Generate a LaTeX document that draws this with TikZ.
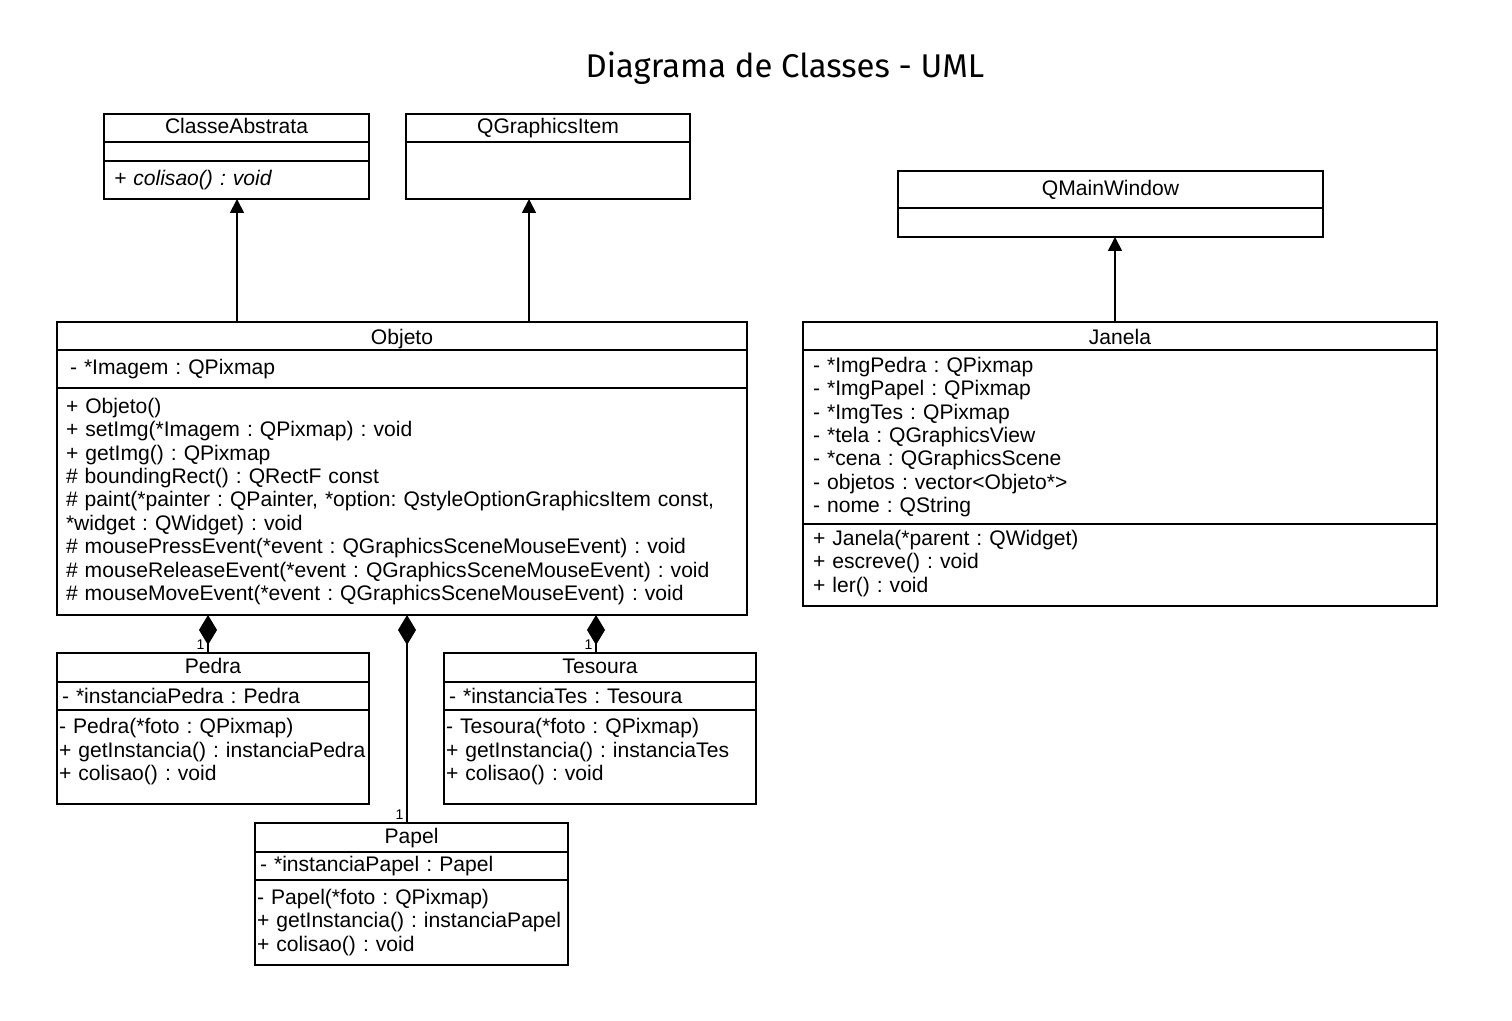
\documentclass[tikz,border=0pt]{standalone}
\usepackage{fontspec}
\setmainfont{Liberation Sans}
\newfontfamily\titlefont{Fira Sans}
\usetikzlibrary{arrows.meta,positioning}
\newcommand\umlfont{\fontsize{12}{13.3}\selectfont\frenchspacing\hyphenpenalty=10000 }

\begin{document}
\begin{tikzpicture}[font=\umlfont,>=Latex,
 hd/.style={draw,line width=1pt,outer sep=0pt,inner sep=0pt,anchor=north west,minimum height=.56cm,text height=9pt,text depth=2.6pt},
 cp/.style={draw,line width=1pt,outer sep=0pt,inner ysep=0pt,inner xsep=.2cm,align=left},
 gen/.style={line width=1pt,-{Triangle[width=.28cm,length=.28cm]}},
 comp/.style={line width=1pt,-{Diamond[width=.36cm,length=.6cm]}},
 mult/.style={font=\footnotesize,inner sep=1.5pt}]
\useasboundingbox (0,0) rectangle (30.24,-20.42);
\node[font=\titlefont\fontsize{18.7}{20}\selectfont] (title) at (15.70,-1.36) {Diagrama de Classes - UML};

% superclasses
\node[hd,minimum width=5.30cm] (abs) at (2.08,-2.28) {ClasseAbstrata};
\node[cp,below=0pt of abs,text width=4.90cm,minimum height=.38cm] (abs-a) {};
\node[cp,below=0pt of abs-a,text width=4.90cm,minimum height=.76cm] (abs-m) {\textit{+ colisao() : void}};

\node[hd,minimum width=5.68cm] (qgi) at (8.12,-2.28) {QGraphicsItem};
\node[cp,below=0pt of qgi,text width=5.28cm,minimum height=1.14cm] (qgi-b) {};

\node[hd,minimum width=8.50cm,minimum height=.74cm] (qmw) at (17.96,-3.42) {QMainWindow};
\node[cp,below=0pt of qmw,text width=8.10cm,minimum height=.58cm] (qmw-b) {};

% Objeto
\node[hd,minimum width=13.80cm,text height=10.6pt,text depth=.6pt] (obj) at (1.14,-6.44) {Objeto};
\node[cp,inner xsep=.26cm,below=0pt of obj,text width=13.28cm,minimum height=.76cm] (obj-a) {- *Imagem : QPixmap};
\node[cp,inner xsep=.18cm,below=0pt of obj-a,text width=13.44cm,minimum height=4.54cm] (obj-m) {+ Objeto()\\
+ setImg(*Imagem : QPixmap) : void\\
+ getImg() : QPixmap\\
\# boundingRect() : QRectF const\\
\# paint(*painter : QPainter, *option: QstyleOptionGraphicsItem const,\\
{}*widget : QWidget) : void\\
\# mousePressEvent(*event : QGraphicsSceneMouseEvent) : void\\
\# mouseReleaseEvent(*event : QGraphicsSceneMouseEvent) : void\\
\# mouseMoveEvent(*event : QGraphicsSceneMouseEvent) : void};

% Janela
\node[hd,minimum width=12.68cm,text height=10.6pt,text depth=.6pt] (jan) at (16.06,-6.44) {Janela};
\node[cp,below=0pt of jan,text width=12.28cm,minimum height=3.48cm] (jan-a) {- *ImgPedra : QPixmap\\
- *ImgPapel : QPixmap\\
- *ImgTes : QPixmap\\
- *tela : QGraphicsView\\
- *cena : QGraphicsScene\\
- objetos : vector<Objeto*>\\
- nome : QString};
\node[cp,below=0pt of jan-a,text width=12.28cm,minimum height=1.64cm] (jan-m) {+ Janela(*parent : QWidget)\\
+ escreve() : void\\
+ ler() : void\\[-9pt]\mbox{}};

% subclasses
\node[hd,minimum width=6.24cm,minimum height=.58cm] (ped) at (1.14,-13.06) {Pedra};
\node[cp,inner xsep=.1cm,below=0pt of ped,text width=6.04cm,minimum height=.56cm] (ped-a) {- *instanciaPedra : Pedra};
\node[cp,inner xsep=.04cm,below=0pt of ped-a,text width=6.16cm,minimum height=1.88cm] (ped-m) {- Pedra(*foto : QPixmap)\\
+ getInstancia() : instanciaPedra\\
+ colisao() : void\\[-5pt]\mbox{}};

\node[hd,minimum width=6.24cm,minimum height=.58cm] (tes) at (8.88,-13.06) {Tesoura};
\node[cp,inner xsep=.1cm,below=0pt of tes,text width=6.04cm,minimum height=.56cm] (tes-a) {- *instanciaTes : Tesoura};
\node[cp,inner xsep=.04cm,below=0pt of tes-a,text width=6.16cm,minimum height=1.88cm] (tes-m) {- Tesoura(*foto : QPixmap)\\
+ getInstancia() : instanciaTes\\
+ colisao() : void\\[-5pt]\mbox{}};

\node[hd,minimum width=6.26cm,minimum height=.58cm] (pap) at (5.10,-16.46) {Papel};
\node[cp,inner xsep=.1cm,below=0pt of pap,text width=6.06cm,minimum height=.56cm] (pap-a) {- *instanciaPapel : Papel};
\node[cp,inner xsep=.04cm,below=0pt of pap-a,text width=6.18cm,minimum height=1.70cm] (pap-m) {- Papel(*foto : QPixmap)\\
+ getInstancia() : instanciaPapel\\
+ colisao() : void};

% inheritance
\draw[gen] ([xshift=.01cm]abs-m.south |- obj.north) -- ([xshift=.01cm]abs-m.south);
\draw[gen] ([xshift=-.38cm]qgi-b.south |- obj.north) -- ([xshift=-.38cm]qgi-b.south);
\draw[gen] ([xshift=.09cm]qmw-b.south |- jan.north) -- ([xshift=.09cm]qmw-b.south);

% composition
\draw[comp] ([xshift=-.1cm]ped.north) node[mult,above left]{1} -- ([xshift=-.1cm]ped.north |- obj-m.south);
\draw[comp] ([xshift=-.09cm]pap.north) node[mult,above left]{1} -- ([xshift=-.09cm]pap.north |- obj-m.south);
\draw[comp] ([xshift=-.08cm]tes.north) node[mult,above left]{1} -- ([xshift=-.08cm]tes.north |- obj-m.south);
\end{tikzpicture}
\end{document}
